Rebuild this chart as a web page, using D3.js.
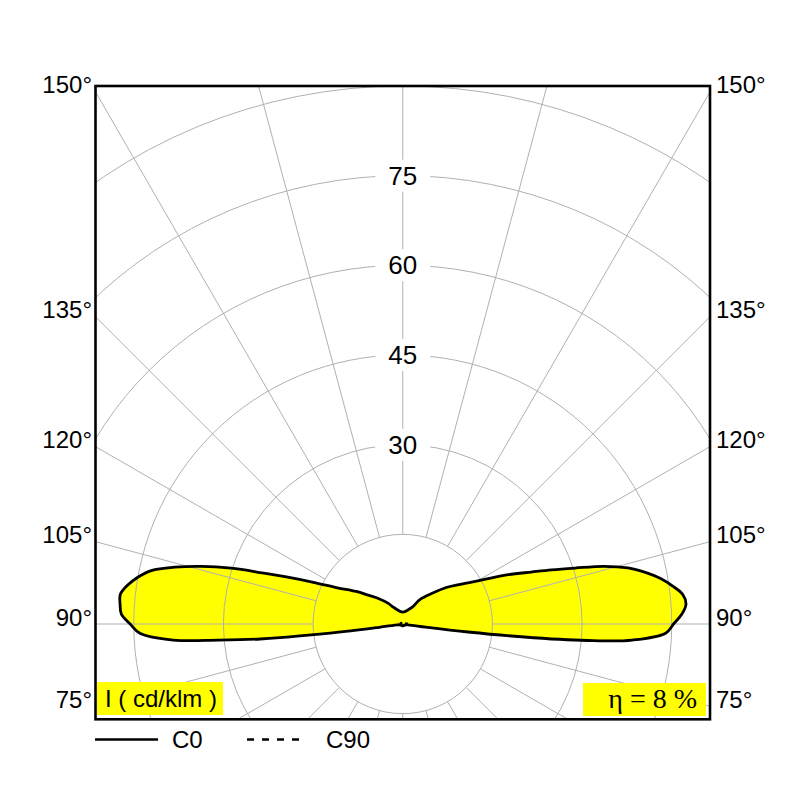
<!DOCTYPE html>
<html>
<head>
<meta charset="utf-8">
<script src="https://cdn.jsdelivr.net/npm/d3@7"></script>
<style>
  html, body { margin: 0; padding: 0; background: #fff; }
  svg { display: block; }
  text { font-family: "Liberation Sans", Arial, sans-serif; }
</style>
</head>
<body>
<script>
// ---- data ----
const gammas = [0,10,20,30,40,50,60,70,80,82,83,84,85,86,88,90,92,94,96,98,100,102,104,106,108,110,112,115,119,125,130,136,145,150,160,170,180];
const c0Values   = [0.3,0.3,0.3,0.3,0.3,0.3,0.4,0.5,0.8,3,11,22,32,38.5,44,45.3,46.7,47.5,47.1,45.6,43.8,41.5,38.8,35,30.3,26.5,23.2,19.5,15.2,11.5,9.5,7.2,5,3.3,2.5,2.1,2.0];
const c180Values = [0.3,0.3,0.3,0.3,0.3,0.3,0.4,0.5,0.8,4,14,24,31,38.5,44,45.6,47.1,47.4,47.5,46.5,45,43,39.3,35,30.2,25,21,16.5,12.5,9.5,7.5,6,4.2,3.3,2.5,2.1,2.0];
const c90Values  = [0.2,0.2,0.2,0.2,0.2,0.25,0.3,0.4,0.6,0.7,0.75,0.8,0.85,0.9,0.9,0.9,0.85,0.8,0.75,0.7,0.6,0.55,0.5,0.45,0.4,0.4,0.35,0.35,0.3,0.3,0.3,0.25,0.25,0.2,0.2,0.2,0.2];
const ringValues = [15, 30, 45, 60, 75, 90];
const ringLabels = [30, 45, 60, 75];
const spokeAngles = d3.range(0, 360, 15);
const angleLabels = [75, 90, 105, 120, 135, 150];
const unitLabel = "I ( cd/klm )";
const etaLabel = "η = 8 %";
const legendNames = ["C0", "C90"];

// ---- layout ----
const W = 800, H = 800;
const frame = {x0: 95.5, x1: 710, y0: 86, y1: 719.3};
const cx = (frame.x0 + frame.x1) / 2, cy = 624;
const r = d3.scaleLinear().domain([0, 90]).range([0, 538]);
const toRad = d => d * Math.PI / 180;

const svg = d3.select("body").append("svg").attr("width", W).attr("height", H);

svg.append("defs").append("clipPath").attr("id", "clip")
  .append("rect").attr("x", frame.x0).attr("y", frame.y0)
  .attr("width", frame.x1 - frame.x0).attr("height", frame.y1 - frame.y0);

const plot = svg.append("g").attr("clip-path", "url(#clip)");
const g = plot.append("g").attr("transform", `translate(${cx},${cy})`);

// lobe points: right half (C0) gamma ascending, left half (C180) descending
const pts = [];
gammas.forEach((gm, i) => pts.push({a: Math.PI - toRad(gm), v: c0Values[i]}));
for (let i = gammas.length - 2; i >= 1; i--) pts.push({a: Math.PI + toRad(gammas[i]), v: c180Values[i]});

const lineC = d3.lineRadial().angle(d => d.a).radius(d => r(d.v)).curve(d3.curveCatmullRomClosed.alpha(0.5));

// fill
g.append("path").attr("d", lineC(pts)).attr("fill", "#ffff00").attr("stroke", "none");

// grid rings
g.selectAll("circle.ring").data(ringValues).enter().append("circle")
  .attr("r", d => r(d)).attr("fill", "none").attr("stroke", "#b0b0b0").attr("stroke-width", 1);

// spokes
g.selectAll("line.spoke").data(spokeAngles).enter().append("line")
  .attr("x1", d => r(15) * Math.sin(toRad(d)))
  .attr("y1", d => r(15) * Math.cos(toRad(d)))
  .attr("x2", d => r(130) * Math.sin(toRad(d)))
  .attr("y2", d => r(130) * Math.cos(toRad(d)))
  .attr("stroke", "#b0b0b0").attr("stroke-width", 1);

// ring labels with white background
const rl = g.selectAll("g.rl").data(ringLabels).enter().append("g")
  .attr("transform", d => `translate(0,${-r(d)})`);
rl.append("rect").attr("x", -27.5).attr("y", -16).attr("width", 55).attr("height", 32).attr("fill", "#fff");
rl.append("text").attr("text-anchor", "middle").attr("y", 9).attr("font-size", 26)
  .attr("fill", "#000").text(d => d);

// C90 (dashed)
const pts90 = [];
gammas.forEach((gm, i) => pts90.push({a: Math.PI - toRad(gm), v: c90Values[i]}));
for (let i = gammas.length - 2; i >= 1; i--) pts90.push({a: Math.PI + toRad(gammas[i]), v: c90Values[i]});
g.append("path").attr("d", lineC(pts90)).attr("fill", "none").attr("stroke", "#000")
  .attr("stroke-width", 2).attr("stroke-dasharray", "3,3");

// C0 outline
g.append("path").attr("d", lineC(pts)).attr("fill", "none").attr("stroke", "#000")
  .attr("stroke-width", 2.8).attr("stroke-linejoin", "round");

// frame
svg.append("rect").attr("x", frame.x0).attr("y", frame.y0)
  .attr("width", frame.x1 - frame.x0).attr("height", frame.y1 - frame.y0)
  .attr("fill", "none").attr("stroke", "#000").attr("stroke-width", 2.6);

// angle labels
const dxEdge = cx - frame.x0;
angleLabels.forEach(a => {
  const y = cy + dxEdge * Math.cos(toRad(a)) / Math.sin(toRad(a)) + 1.5;
  svg.append("text").attr("x", 92).attr("y", y).attr("text-anchor", "end")
    .attr("font-size", 24).attr("fill", "#000").text(a + "°");
  svg.append("text").attr("x", 716).attr("y", y).attr("text-anchor", "start")
    .attr("font-size", 24).attr("fill", "#000").text(a + "°");
});

// unit box
svg.append("rect").attr("x", 97).attr("y", 682).attr("width", 126).attr("height", 33).attr("fill", "#ffff00");
svg.append("text").attr("x", 105).attr("y", 707).attr("font-size", 24).attr("fill", "#000")
  .attr("textLength", 112).attr("lengthAdjust", "spacingAndGlyphs").text(unitLabel);

// eta box
svg.append("rect").attr("x", 583).attr("y", 683).attr("width", 123).attr("height", 33).attr("fill", "#ffff00");
svg.append("text").attr("x", 697).attr("y", 708).attr("text-anchor", "end")
  .style("font-family", "'Liberation Serif', 'Times New Roman', serif")
  .attr("font-size", 28).attr("fill", "#000").attr("xml:space", "preserve").text(etaLabel);

// legend
svg.append("line").attr("x1", 95).attr("x2", 158).attr("y1", 739.5).attr("y2", 739.5)
  .attr("stroke", "#000").attr("stroke-width", 2.6);
svg.append("text").attr("x", 172).attr("y", 747.5).attr("font-size", 24).attr("fill", "#000").text(legendNames[0]);
svg.append("line").attr("x1", 247).attr("x2", 302).attr("y1", 739.5).attr("y2", 739.5)
  .attr("stroke", "#000").attr("stroke-width", 2.6).attr("stroke-dasharray", "7,8");
svg.append("text").attr("x", 326).attr("y", 747.5).attr("font-size", 24).attr("fill", "#000").text(legendNames[1]);
</script>
</body>
</html>
